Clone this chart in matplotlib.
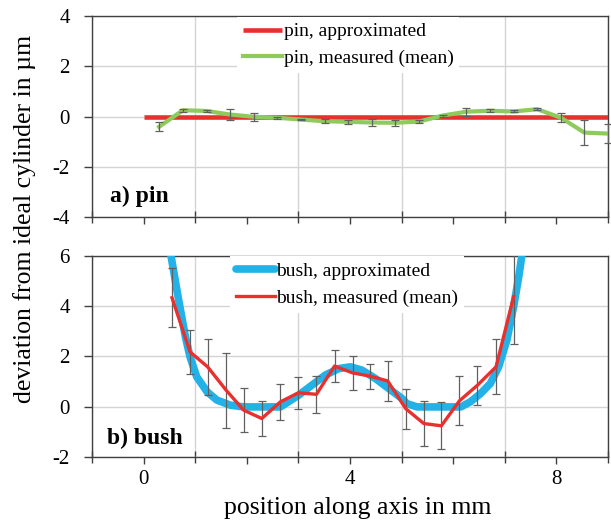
import matplotlib.pyplot as plt
from matplotlib.ticker import FixedLocator, FixedFormatter, MultipleLocator

plt.rcParams['font.family'] = ['Liberation Serif', 'DejaVu Serif']
plt.rcParams['axes.unicode_minus'] = False

# a) pin: measured mean with error bars, and the fitted (ideal) line
pin_x = [0.30, 0.76, 1.22, 1.67, 2.13, 2.59, 3.05, 3.51, 3.96, 4.42,
         4.88, 5.34, 5.80, 6.25, 6.71, 7.17, 7.63, 8.09, 8.54, 9.00]
pin_mean = [-0.41, 0.25, 0.22, 0.08, -0.01, -0.05, -0.12, -0.19, -0.21, -0.24,
            -0.25, -0.20, 0.04, 0.19, 0.23, 0.20, 0.29, -0.05, -0.64, -0.68]
pin_err = [0.18, 0.06, 0.04, 0.20, 0.15, 0.03, 0.03, 0.08, 0.08, 0.13,
           0.13, 0.06, 0.04, 0.15, 0.05, 0.04, 0.05, 0.18, 0.49, 0.38]
pin_fit_x = [0.0, 9.0]
pin_fit_y = [0.0, 0.0]

# b) bush
bush_x = [0.55, 0.90, 1.24, 1.60, 1.94, 2.29, 2.65, 3.00, 3.35, 3.70,
          4.05, 4.39, 4.73, 5.08, 5.43, 5.77, 6.12, 6.47, 6.83, 7.17]
bush_mean = [4.33, 2.18, 1.59, 0.66, -0.13, -0.46, 0.20, 0.56, 0.50, 1.62,
             1.35, 1.22, 1.03, -0.07, -0.66, -0.75, 0.24, 0.86, 1.59, 4.37]
bush_err = [1.17, 0.87, 1.10, 1.48, 0.87, 0.70, 0.70, 0.64, 0.73, 0.64,
            0.68, 0.50, 0.78, 0.79, 0.88, 0.93, 0.97, 0.78, 1.09, 1.87]
bush_fit_x = [0.45, 0.53, 0.68, 0.81, 0.90, 1.03, 1.23, 1.42, 1.68, 1.94,
              2.30, 2.65, 2.75, 3.00, 3.26, 3.52, 3.78, 4.01, 4.23, 4.49,
              4.75, 5.01, 5.10, 5.30, 5.70, 6.15, 6.33, 6.53, 6.72, 6.88,
              7.04, 7.17, 7.27, 7.33, 7.40]
bush_fit_y = [7.00, 6.00, 4.23, 2.78, 1.98, 1.19, 0.60, 0.27, 0.07, 0.00,
              0.00, 0.00, 0.13, 0.46, 0.86, 1.26, 1.52, 1.59, 1.46, 1.13,
              0.73, 0.33, 0.13, 0.00, 0.00, 0.00, 0.20, 0.53, 0.93, 1.59,
              2.65, 3.97, 5.16, 6.00, 7.00]

red = '#e8302e'
green = '#8fca5c'
blue = '#22b2e8'
bar_col = '#606060'
spine_col = '#404040'


def style_axes(ax, ylim, show_xlabels):
    ax.set_xlim(-1, 9)
    ax.set_ylim(*ylim)
    ax.xaxis.set_major_locator(FixedLocator([-1, 1, 3, 5, 7, 9]))
    ax.xaxis.set_minor_locator(FixedLocator([0, 2, 4, 6, 8]))
    ax.xaxis.set_major_formatter(FixedFormatter([''] * 6))
    if show_xlabels:
        ax.xaxis.set_minor_formatter(FixedFormatter(['0', '', '4', '', '8']))
    else:
        ax.xaxis.set_minor_formatter(FixedFormatter([''] * 5))
    ax.yaxis.set_major_locator(MultipleLocator(2))
    ax.tick_params(axis='x', which='major', direction='inout', length=8,
                   color=spine_col, width=1)
    ax.tick_params(axis='x', which='minor', direction='out', length=5,
                   color=spine_col, width=1, labelsize=15, pad=4)
    ax.tick_params(axis='y', direction='out', length=6, color=spine_col,
                   width=1, labelsize=15, pad=10)
    ax.grid(True, which='major', color='#d4d4d4', linewidth=1)
    ax.set_axisbelow(True)
    for s in ax.spines.values():
        s.set_color(spine_col)
        s.set_linewidth(1)


fig = plt.figure(figsize=(6.11, 5.22), dpi=100)
ax1 = fig.add_axes([0.1506, 0.5843, 0.8445, 0.385])
ax2 = fig.add_axes([0.1506, 0.1239, 0.8445, 0.3863])

# top panel
ax1.plot(pin_fit_x, pin_fit_y, color=red, lw=3.3, label='pin, approximated',
         solid_capstyle='butt', zorder=3)
ax1.plot(pin_x, pin_mean, color=green, lw=3.0, label='pin, measured (mean)',
         zorder=4)
ax1.errorbar(pin_x, pin_mean, yerr=pin_err, fmt='none', ecolor=bar_col,
             elinewidth=0.9, capsize=3, capthick=0.9, zorder=5, clip_on=False)
style_axes(ax1, (-4, 4), False)
ax1.legend(loc='upper left', bbox_to_anchor=(0.281, 0.995), frameon=True,
           fancybox=False, edgecolor='none', facecolor='white', framealpha=1,
           fontsize=14, handlelength=2.0, handletextpad=0.1, labelspacing=0.45,
           borderpad=0.3, borderaxespad=0)
ax1.text(0.035, 0.10, 'a) pin', transform=ax1.transAxes, fontsize=17,
         fontweight='bold', va='center', ha='left')

# bottom panel
ax2.plot(bush_fit_x, bush_fit_y, color=blue, lw=5.5,
         label='bush, approximated', solid_capstyle='round', zorder=3)
ax2.errorbar(bush_x, bush_mean, yerr=bush_err, fmt='none', ecolor=bar_col,
             elinewidth=0.9, capsize=3, capthick=0.9, zorder=4)
ax2.plot(bush_x, bush_mean, color=red, lw=2.4,
         label='bush, measured (mean)', zorder=5)
style_axes(ax2, (-2, 6), True)
ax2.legend(loc='upper left', bbox_to_anchor=(0.267, 0.997), frameon=True,
           fancybox=False, edgecolor='none', facecolor='white', framealpha=1,
           fontsize=14, handlelength=2.0, handletextpad=0.1, labelspacing=0.5,
           borderpad=0.3, borderaxespad=0)
ax2.text(0.029, 0.096, 'b) bush', transform=ax2.transAxes, fontsize=17,
         fontweight='bold', va='center', ha='left')
ax2.set_xlabel('position along axis in mm', fontsize=18.5, labelpad=6, x=0.514)

fig.text(0.04, 0.58, 'deviation from ideal cylinder in \u00b5m', rotation=90,
         fontsize=18.5, va='center', ha='center')

fig.savefig('out.png', dpi=100)
